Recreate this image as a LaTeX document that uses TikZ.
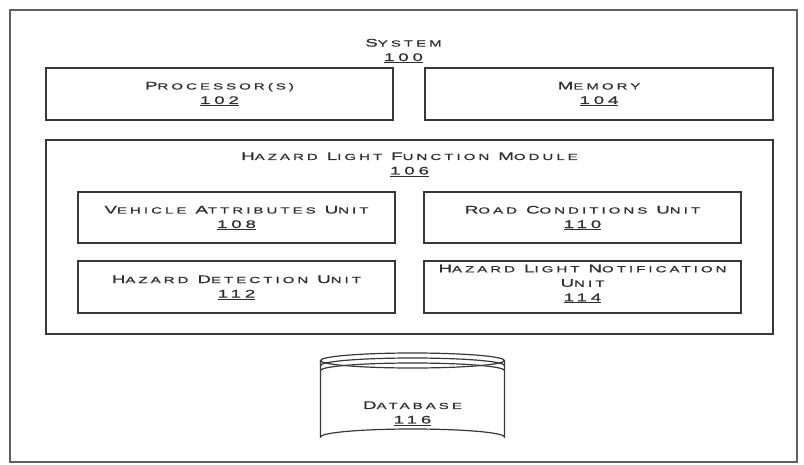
\documentclass[tikz,border=0pt]{standalone}
\usepackage{fontspec}
\setmainfont{Liberation Sans}[FakeStretch=1.7,LetterSpace=35,FakeBold=0.7]
\definecolor{ink}{HTML}{2E2E2E}
\definecolor{edge}{HTML}{383838}
\newcommand\bigc{\fontsize{11pt}{12pt}\selectfont}
\newcommand\smc{\fontsize{8.8pt}{12pt}\selectfont}
\newcommand\SC[2]{{\bigc #1}{\smc #2}}
\newcommand\NUM[1]{{\bigc\underline{#1}}}
\begin{document}
\begin{tikzpicture}[x=1pt,y=-1pt,
  boxline/.style={draw=edge,line width=1.5pt},
  lbl/.style={text=ink,align=center,inner sep=0pt,font=\bigc,
     execute at begin node={\setlength{\baselineskip}{14.5pt}}}]
\useasboundingbox (0,0) rectangle (804,464);
\fill[white] (0,0) rectangle (804,464);
% outer system box
\draw[draw=edge!80,line width=1.2pt] (10,10) rectangle (797,462);
\node[lbl] (sys) at (403.5,51) {\SC{S}{YSTEM}\\\NUM{100}};
% processor and memory
\draw[boxline] (46,68) rectangle (393,120);
\node[lbl] (proc) at (219.5,94) {\SC{P}{ROCESSOR}{\smc(S)}\\\NUM{102}};
\draw[boxline] (425,68) rectangle (773,120);
\node[lbl] (mem) at (599,94) {\SC{M}{EMORY}\\\NUM{104}};
% hazard light function module
\draw[boxline] (46,140) rectangle (773,334);
\node[lbl] (hlfm) at (409.5,164.5) {\SC{H}{AZARD} \SC{L}{IGHT} \SC{F}{UNCTION} \SC{M}{ODULE}\\\NUM{106}};
\draw[boxline] (78,192) rectangle (395,243);
\node[lbl] (veh) at (236.5,218) {\SC{V}{EHICLE} \SC{A}{TTRIBUTES} \SC{U}{NIT}\\\NUM{108}};
\draw[boxline] (424,192) rectangle (741,243);
\node[lbl] (road) at (582.5,218) {\SC{R}{OAD} \SC{C}{ONDITIONS} \SC{U}{NIT}\\\NUM{110}};
\draw[boxline] (78,261) rectangle (395,313);
\node[lbl] (haz) at (236.5,287.5) {\SC{H}{AZARD} \SC{D}{ETECTION} \SC{U}{NIT}\\\NUM{112}};
\draw[boxline] (424,261) rectangle (741,313);
\node[lbl] (notif) at (582.5,284) {\SC{H}{AZARD} \SC{L}{IGHT} \SC{N}{OTIFICATION}\\\SC{U}{NIT}\\\NUM{114}};
% database cylinder
\begin{scope}[draw=edge,line width=1.2pt]
\draw (412.5,360.5) ellipse [x radius=92,y radius=7.5];
\draw (320.5,365.5) arc[start angle=180,end angle=360,x radius=92,y radius=7.5];
\draw (320.5,370.5) arc[start angle=180,end angle=360,x radius=92,y radius=7.5];
\draw (320.5,360.5) -- (320.5,437) arc[start angle=180,end angle=360,x radius=92,y radius=8] -- (504.5,360.5);
\end{scope}
\node[lbl] (db) at (412.5,413.5) {\SC{D}{ATABASE}\\\NUM{116}};
\end{tikzpicture}
\end{document}
